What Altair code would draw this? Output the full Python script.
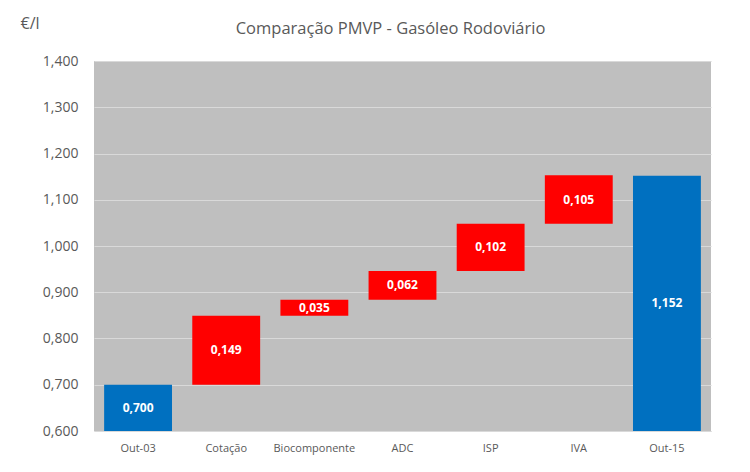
import altair as alt
import pandas as pd

categories = ["Out-03", "Cotação", "Biocomponente", "ADC", "ISP", "IVA", "Out-15"]
values = [0.700, 0.149, 0.035, 0.062, 0.102, 0.105, 1.152]
kinds = ["total", "delta", "delta", "delta", "delta", "delta", "total"]
y_ticks = [0.6, 0.7, 0.8, 0.9, 1.0, 1.1, 1.2, 1.3, 1.4]

rows = []
cum = 0.0
for c, v, k in zip(categories, values, kinds):
    if k == "total":
        start, end = 0.6, v
        cum = v
    else:
        start, end = cum, cum + v
        cum = end
    rows.append({"cat": c, "start": start, "end": end, "mid": (start + end) / 2,
                 "label": f"{v:.3f}".replace(".", ","), "kind": k})
df = pd.DataFrame(rows)

font = "Open Sans"
gray = "#595959"

base = alt.Chart(df).encode(
    x=alt.X("cat:N", sort=categories, title=None,
            scale=alt.Scale(paddingInner=0.23, paddingOuter=0.115),
            axis=alt.Axis(labelAngle=0, labelFont=font, labelFontSize=11, labelColor=gray,
                          domain=True, domainColor="#d9d9d9", ticks=False, labelPadding=11))
)

bars = base.mark_bar().encode(
    y=alt.Y("start:Q", scale=alt.Scale(domain=[0.6, 1.4], nice=False, zero=False),
            title="€/l",
            axis=alt.Axis(values=y_ticks, labelExpr="replace(format(datum.value, '.3f'), '.', ',')",
                          labelFont=font, labelFontSize=14, labelColor=gray, labelPadding=16,
                          domain=False, ticks=False, grid=True, gridColor="#d9d9d9", gridWidth=1.2,
                          titleAngle=0, titleFont=font, titleFontSize=16, titleFontWeight="normal",
                          titleColor=gray, titleX=-74, titleY=-33, titleAlign="left",
                          titleBaseline="alphabetic")),
    y2="end:Q",
    color=alt.Color("kind:N", scale=alt.Scale(domain=["total", "delta"], range=["#0070c0", "#ff0000"]),
                    legend=None),
)

text = base.mark_text(color="white", fontWeight="bold", font=font, fontSize=12).encode(
    y="mid:Q", text="label:N"
)

chart = alt.layer(bars, text).properties(
    width=617, height=370,
    autosize=alt.AutoSizeParams(type="none"),
    padding={"left": 86, "top": 53, "right": 30, "bottom": 40},
    title=alt.Title("Comparação PMVP -  Gasóleo Rodoviário", font=font, fontSize=16.5,
                    fontWeight="normal", color=gray, anchor="middle", dx=-12, offset=0,
                    baseline="alphabetic", dy=35),
).configure_view(fill="#bfbfbf", stroke=None)

chart.save("out.html", embed_options={"renderer": "svg", "actions": False})
